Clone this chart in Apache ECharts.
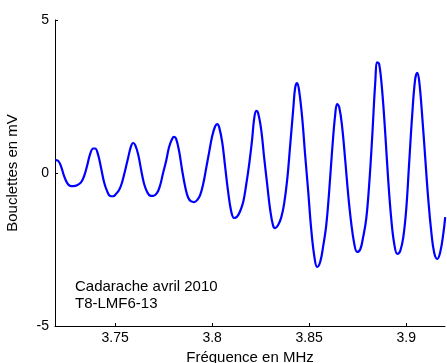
<!DOCTYPE html>
<html>
<head>
    <meta charset="utf-8" />
    <title>Bouclettes</title>
    <script src="https://cdn.jsdelivr.net/npm/echarts@6/dist/echarts.min.js"></script>
    <style>
        html, body { margin: 0; padding: 0; background: #ffffff; }
        #chart { width: 447px; height: 363px; }
    </style>
</head>
<body>
<div id="chart"></div>
<script type="text/javascript">
    // fréquence (MHz)
    var freq = [
        3.7191, 3.7206, 3.7222, 3.7237, 3.7253, 3.7268, 3.7284, 3.7304, 3.7325, 3.7340,
        3.7356, 3.7371, 3.7387, 3.7397, 3.7412, 3.7428, 3.7443, 3.7459, 3.7474, 3.7490,
        3.7505, 3.7521, 3.7536, 3.7552, 3.7567, 3.7582, 3.7593, 3.7603, 3.7619, 3.7634,
        3.7649, 3.7665, 3.7680, 3.7696, 3.7716, 3.7732, 3.7747, 3.7763, 3.7778, 3.7794,
        3.7804, 3.7814, 3.7830, 3.7845, 3.7861, 3.7876, 3.7892, 3.7907, 3.7923, 3.7938,
        3.7954, 3.7969, 3.7985, 3.8000, 3.8015, 3.8026, 3.8036, 3.8052, 3.8067, 3.8082,
        3.8098, 3.8113, 3.8129, 3.8144, 3.8160, 3.8175, 3.8191, 3.8206, 3.8216, 3.8227,
        3.8237, 3.8253, 3.8268, 3.8284, 3.8299, 3.8314, 3.8325, 3.8340, 3.8356, 3.8371,
        3.8387, 3.8402, 3.8418, 3.8428, 3.8438, 3.8448, 3.8464, 3.8479, 3.8495, 3.8510,
        3.8526, 3.8541, 3.8557, 3.8572, 3.8588, 3.8603, 3.8619, 3.8634, 3.8644, 3.8655,
        3.8670, 3.8686, 3.8701, 3.8716, 3.8732, 3.8747, 3.8763, 3.8778, 3.8794, 3.8809,
        3.8825, 3.8840, 3.8851, 3.8861, 3.8876, 3.8892, 3.8907, 3.8923, 3.8938, 3.8954,
        3.8969, 3.8985, 3.9000, 3.9015, 3.9031, 3.9046, 3.9057, 3.9067, 3.9082, 3.9098,
        3.9113, 3.9129, 3.9144, 3.9160, 3.9175, 3.9191, 3.9201
    ];
    // bouclettes (mV)
    var bouclettes = [
        0.42, 0.40, 0.20, -0.10, -0.33, -0.42, -0.43, -0.40, -0.30, -0.10,
        0.25, 0.62, 0.80, 0.80, 0.60, 0.15, -0.30, -0.60, -0.75, -0.76,
        -0.68, -0.55, -0.30, 0.10, 0.50, 0.88, 0.98, 0.92, 0.60, 0.10,
        -0.35, -0.62, -0.74, -0.75, -0.65, -0.40, 0.00, 0.40, 0.85, 1.12,
        1.18, 1.12, 0.70, 0.10, -0.45, -0.80, -0.93, -0.95, -0.88, -0.72,
        -0.35, 0.15, 0.70, 1.20, 1.52, 1.60, 1.50, 1.00, 0.20, -0.60,
        -1.25, -1.47, -1.42, -1.25, -0.95, -0.40, 0.30, 1.10, 1.75, 2.03,
        1.95, 1.40, 0.50, -0.40, -1.20, -1.72, -1.80, -1.70, -1.45, -1.00,
        -0.20, 0.90, 2.10, 2.80, 2.94, 2.70, 1.80, 0.60, -0.60, -1.80,
        -2.70, -3.07, -2.90, -2.40, -1.70, -0.60, 0.80, 1.90, 2.25, 2.15,
        1.50, 0.40, -0.70, -1.60, -2.30, -2.58, -2.50, -2.10, -1.50, -0.40,
        1.20, 2.90, 3.62, 3.55, 2.70, 1.30, -0.20, -1.50, -2.30, -2.64,
        -2.55, -2.10, -1.20, 0.30, 1.90, 3.05, 3.27, 3.00, 1.90, 0.50,
        -0.80, -1.90, -2.60, -2.81, -2.60, -2.00, -1.44
    ];
    var xTicks = [3.75, 3.8, 3.85, 3.9];
    var yTicks = [-5, 0, 5];
    var annotation = ['Cadarache avril 2010', 'T8-LMF6-13'];

    var police = 'Helvetica, "Liberation Sans", Arial, sans-serif';
    var points = [];
    for (var i = 0; i < freq.length; i++) {
        points.push([freq[i], bouclettes[i]]);
    }

    var myChart = echarts.init(document.getElementById('chart'));
    var option = {
        animation: false,
        grid: { left: 55, right: 2, top: 20, bottom: 37, outerBoundsMode: 'none' },
        xAxis: {
            type: 'value',
            min: 3.719,
            max: 3.92,
            name: 'Fréquence en MHz',
            nameLocation: 'middle',
            nameGap: 21,
            nameTextStyle: { color: '#000', fontSize: 15, fontFamily: police },
            axisLine: { onZero: false, lineStyle: { color: '#000', width: 1 } },
            axisTick: { inside: true, length: 3, customValues: xTicks, lineStyle: { color: '#000' } },
            axisLabel: { customValues: xTicks, color: '#000', fontSize: 14, fontFamily: police, margin: 5 },
            splitLine: { show: false }
        },
        yAxis: {
            type: 'value',
            min: -5,
            max: 5,
            interval: 5,
            name: 'Bouclettes en mV',
            nameLocation: 'middle',
            nameGap: 35,
            nameTextStyle: { color: '#000', fontSize: 15, fontFamily: police },
            axisLine: { show: true, onZero: false, lineStyle: { color: '#000', width: 1 } },
            axisTick: { show: true, inside: true, length: 3, customValues: yTicks, lineStyle: { color: '#000' } },
            axisLabel: { color: '#000', fontSize: 14, fontFamily: police, margin: 6 },
            splitLine: { show: false }
        },
        graphic: [
            {
                type: 'text',
                left: 75,
                top: 278,
                style: {
                    text: annotation.join('\n'),
                    fill: '#000',
                    font: '15px ' + police,
                    lineHeight: 17
                }
            }
        ],
        series: [
            {
                type: 'line',
                data: points,
                showSymbol: false,
                smooth: 0.4,
                lineStyle: { color: '#0000ff', width: 2.2 }
            }
        ]
    };
    myChart.setOption(option);
</script>
</body>
</html>
